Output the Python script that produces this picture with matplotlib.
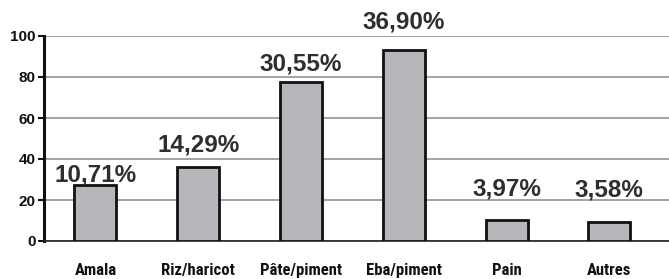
import matplotlib
matplotlib.use("Agg")
import matplotlib.pyplot as plt

# données
categories = ["Amala", "Riz/haricot", "Pâte/piment", "Eba/piment", "Pain", "Autres"]
hauteurs = [27.2, 36.3, 77.4, 93.0, 10.3, 9.2]
etiquettes = ["10,71%", "14,29%", "30,55%", "36,90%", "3,97%", "3,58%"]
yticks = [0, 20, 40, 60, 80, 100]

# position verticale (ligne de base) des étiquettes, en unités de l'axe
y_etiquettes = [28.9, 43.5, 83.3, 103.6, 22.4, 21.6]

fig = plt.figure(figsize=(6.69, 2.79), dpi=100)
ax = fig.add_axes([44 / 669, 38 / 279, 1 - 44 / 669, 205 / 279])

x = range(len(categories))
ax.bar(x, hauteurs, width=0.41, color="#b6b7ba", edgecolor="#111111", linewidth=2, zorder=3)

# etiquettes au-dessus des barres
for i, (yb, lab) in enumerate(zip(y_etiquettes, etiquettes)):
    ax.text(i, yb, lab, ha="center", va="baseline", fontsize=17.5,
            family="Liberation Sans", weight="bold", color="#2e2e2e", clip_on=False)

ax.set_xlim(-0.5, 5.58)
ax.set_ylim(0, 100)
ax.set_yticks(yticks)
ax.set_yticklabels([str(v) for v in yticks], fontsize=11, weight="bold", family="Liberation Sans")
ax.set_xticks(list(x))
ax.set_xticklabels(categories, fontsize=12, weight="bold", family="Roboto Condensed")

ax.yaxis.grid(True, color="#8a8a8a", linewidth=1.1, zorder=0)
ax.set_axisbelow(True)

for s in ["top", "right"]:
    ax.spines[s].set_visible(False)
ax.spines["left"].set_linewidth(2.2)
ax.spines["left"].set_color("#111111")
ax.spines["bottom"].set_linewidth(1.2)
ax.spines["bottom"].set_color("#222222")

ax.tick_params(axis="y", length=4, width=1.5, pad=2, colors="#111111")
ax.tick_params(axis="x", length=0, pad=15.5, colors="#111111")

fig.savefig("out.png", dpi=100)
